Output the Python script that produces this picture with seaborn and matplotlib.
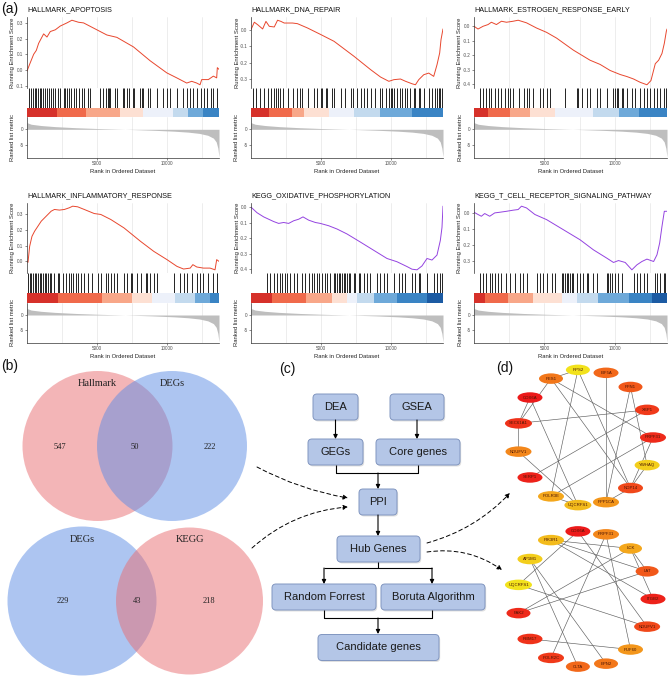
import matplotlib
matplotlib.use("Agg")
import matplotlib.pyplot as plt
import numpy as np
import pandas as pd
import seaborn as sns
from matplotlib.colors import BoundaryNorm, LinearSegmentedColormap, ListedColormap
from matplotlib.patches import Circle, Ellipse, FancyArrowPatch, FancyBboxPatch
from matplotlib.ticker import FormatStrFormatter, MultipleLocator

# ---------------- data ----------------
N_GENES = 13700

# ranked list metric (shared by all six GSEA panels)
metric_rank = [0, 300, 1000, 2000, 3500, 5000, 7000, 9000, 10500, 11500, 12300, 12900, 13300, 13500, 13620, 13700]
metric_value = [2.1, 1.6, 1.2, 0.85, 0.5, 0.25, 0.0, -0.3, -0.6, -0.9, -1.3, -1.9, -2.8, -4.0, -6.0, -8.8]

apoptosis_rank = [0, 190, 475, 665, 831, 1068, 1187, 1425, 1662, 2018, 2374, 2849, 3205, 3680, 4036, 4749,
                  5699, 6411, 7598, 8785, 9972, 10685, 11397, 11753, 12109, 12346, 12465, 12940, 13296, 13534, 13581, 13700]
apoptosis_es = [-0.007, 0.037, 0.10, 0.125, 0.17, 0.21, 0.23, 0.21, 0.245, 0.256, 0.28, 0.30, 0.317, 0.304, 0.30, 0.267,
                0.223, 0.208, 0.147, 0.059, -0.018, -0.05, -0.083, -0.072, -0.083, -0.094, -0.061, -0.061, -0.039, -0.05, 0.015, 0.004]
apoptosis_hits = [119, 285, 427, 546, 665, 783, 902, 1021, 1140, 1258, 1424, 1591, 1733, 1852, 2018, 2184, 2374, 2611,
                  2730, 2849, 3015, 3134, 3324, 3514, 3680, 3917, 4084, 4321, 4463, 5223, 5413, 5650, 5745, 5840, 5935,
                  6291, 6457, 6837, 6932, 7122, 7312, 7549, 7668, 8072, 8190, 8309, 8665, 8784, 9259, 9686, 9971, 10208,
                  10683, 11158, 11443, 11633, 11823, 12108, 12416, 12630, 12820, 13105, 13295, 13532]
apoptosis_edges = [0, 2140, 4230, 6650, 8310, 10450, 11520, 12580, 13700]
apoptosis_levels = [4, 3, 2, 1, 0, -1, -2, -3]

dna_rank = [0, 237, 474, 830, 1067, 1304, 1659, 1896, 2133, 2370, 2607, 2963, 3318, 4029, 4978, 5925, 7348, 8533,
            9244, 9837, 10192, 10666, 11031, 11496, 11733, 11970, 12325, 12681, 13037, 13273, 13463, 13558, 13700]
dna_es = [0, 0.045, 0.03, 0.004, 0.05, 0.02, 0.016, 0.057, 0.05, 0.04, 0.04, 0.04, 0.036, 0.01, -0.03, -0.071, -0.162,
          -0.243, -0.288, -0.314, -0.304, -0.30, -0.314, -0.329, -0.335, -0.304, -0.274, -0.264, -0.284, -0.213,
          -0.142, -0.061, 0.004]
dna_hits = [119, 356, 664, 901, 1185, 1422, 1659, 1778, 1896, 2086, 2252, 2607, 2963, 3271, 3508, 3674, 4076, 4503,
            4740, 4977, 5096, 5333, 5451, 5807, 5925, 6399, 6683, 7110, 7300, 7584, 7821, 8058, 8295, 8532, 8816, 9196,
            9362, 9599, 9836, 9954, 10073, 10238, 10428, 10618, 10784, 11021, 11139, 11376, 11613, 11732, 11969, 12087,
            12324, 12680, 12917, 13154, 13272, 13391, 13509, 13628]
dna_edges = [0, 1300, 2960, 3790, 5570, 7350, 9240, 11500, 13700]
dna_levels = [4, 3, 2, 1, 0, -1, -2, -3]

estrogen_rank = [0, 285, 641, 997, 1235, 1591, 1947, 2303, 2779, 3134, 3728, 4440, 5152, 5865, 7052, 8239, 8951,
                 9664, 10376, 10851, 11326, 11800, 12275, 12560, 12869, 13106, 13344, 13510, 13652, 13700]
estrogen_es = [0, -0.019, 0, 0.012, 0.028, 0.012, 0.035, 0.028, 0.035, 0.042, 0.024, -0.012, -0.042, -0.082, -0.165,
               -0.235, -0.264, -0.306, -0.334, -0.348, -0.365, -0.388, -0.405, -0.376, -0.259, -0.235, -0.188,
               -0.118, -0.035, -0.019]
estrogen_hits = [404, 641, 878, 1068, 1234, 1472, 1709, 1947, 2184, 2421, 2588, 2778, 3205, 3561, 3775, 3917, 4202,
                 4677, 4914, 5152, 5389, 6457, 7288, 7407, 7644, 8000, 8238, 8713, 8950, 9425, 9900, 10018, 10137,
                 10256, 10493, 10612, 10850, 11206, 11443, 11799, 12036, 12274, 12511, 12749, 12986, 13223, 13461, 13651]
estrogen_edges = [0, 1000, 2540, 4010, 5750, 8480, 10260, 11680, 13700]
estrogen_levels = [4, 3, 2, 1, 0, -1, -2, -3]

inflam_rank = [0, 71, 189, 354, 543, 780, 1016, 1370, 1724, 1961, 2315, 2669, 3023, 3260, 3614, 4087, 4795, 5267,
               5976, 6921, 8102, 9046, 9991, 10700, 11172, 11645, 11834, 12117, 12590, 13062, 13416, 13535, 13700]
inflam_es = [0, -0.006, 0.096, 0.16, 0.193, 0.225, 0.257, 0.289, 0.321, 0.332, 0.328, 0.332, 0.343, 0.353, 0.349,
             0.332, 0.306, 0.30, 0.268, 0.214, 0.128, 0.064, 0.011, -0.032, -0.049, -0.043, -0.021, -0.036, -0.043,
             -0.043, -0.054, 0.011, 0]
inflam_hits = [71, 189, 307, 425, 543, 661, 779, 898, 1016, 1134, 1252, 1370, 1488, 1606, 1724, 1960, 2197, 2315,
               2551, 2787, 3023, 3141, 3260, 3496, 3661, 3850, 4086, 4370, 4606, 5031, 5267, 5622, 5787, 5976, 6212,
               6448, 6921, 7157, 7393, 7511, 7865, 8102, 8456, 8574, 8810, 9046, 9283, 10464, 10936, 11172, 11409,
               11763, 12117, 12353, 12590, 12944, 13298, 13534]
inflam_edges = [0, 2200, 5380, 7510, 8930, 10580, 11990, 13050, 13700]
inflam_levels = [4, 3, 2, 1, 0, -1, -2, -3]

oxphos_rank = [0, 428, 904, 1261, 1617, 1974, 2331, 2688, 3044, 3401, 3710, 4115, 4590, 4947, 5542, 6136, 6850,
               7801, 8752, 9704, 10417, 11130, 11488, 11845, 12201, 12558, 12915, 13271, 13509, 13628, 13700]
oxphos_es = [0, -0.036, -0.063, -0.078, -0.093, -0.105, -0.099, -0.105, -0.088, -0.078, -0.063, -0.084, -0.099,
             -0.105, -0.12, -0.141, -0.173, -0.225, -0.278, -0.331, -0.352, -0.383, -0.40, -0.404, -0.379, -0.331,
             -0.341, -0.309, -0.215, -0.131, 0.006]
oxphos_hits = [1141, 1379, 1617, 1855, 2045, 2212, 2449, 2568, 2806, 3044, 3282, 3638, 3876, 4114, 4352, 4471, 4708,
               4827, 5065, 5303, 5422, 5660, 5897, 6016, 6135, 6254, 6373, 6492, 6611, 6730, 6849, 6968, 7086, 7324,
               7443, 7681, 7800, 8038, 8275, 8513, 8989, 9227, 9464, 9702, 10178, 10535, 10772, 11010, 11486, 11724,
               11961, 12080, 12556, 13031, 13269, 13459, 13626]
oxphos_edges = [0, 1500, 3950, 5780, 6850, 7560, 8750, 10420, 12560, 13700]
oxphos_levels = [4, 3, 2, 1, 0, -1, -2, -3, -4]

tcell_rank = [0, 285, 522, 760, 1116, 1472, 1828, 2303, 2779, 3134, 3372, 3728, 4321, 5152, 6340, 7527, 8477, 9427,
              9902, 10257, 10732, 11207, 11563, 11919, 12275, 12750, 12988, 13178, 13344, 13510, 13700]
tcell_es = [0.004, -0.01, -0.021, -0.004, -0.021, 0, 0.004, 0.01, 0.017, 0.021, 0.042, 0.031, -0.01, -0.042, -0.105,
            -0.168, -0.231, -0.283, -0.31, -0.298, -0.31, -0.356, -0.325, -0.304, -0.289, -0.304, -0.262, -0.189,
            -0.084, 0.01, 0.01]
tcell_hits = [404, 641, 878, 1116, 1306, 1472, 1709, 1947, 2303, 2588, 2896, 3252, 3490, 3727, 4440, 4677, 4914, 5152,
              5508, 5745, 6220, 6339, 6457, 6576, 6695, 6814, 6932, 7051, 7288, 7526, 7763, 8000, 8119, 8475, 8713,
              9425, 9543, 9662, 9781, 10018, 10256, 10493, 11324, 11561, 11799, 12036, 12274, 12867, 12986, 13223,
              13461, 13579]
tcell_edges = [0, 760, 2420, 4200, 6220, 7290, 8830, 10970, 12630, 13700]
tcell_levels = [4, 3, 2, 1, 0, -1, -2, -3, -4]

# Venn diagrams
venn1_sets = ["Hallmark", "DEGs"]
venn1_counts = [547, 50, 222]
venn2_sets = ["DEGs", "KEGG"]
venn2_counts = [229, 43, 218]

# workflow
flow_steps = ["DEA", "GSEA", "GEGs", "Core genes", "PPI", "Hub Genes",
              "Random Forrest", "Boruta Algorithm", "Candidate genes"]

# hub gene networks (rank 1 = highest score)
net1_genes = ["RPS2", "EIF5A", "PFN1", "XBP1", "PRPF31", "YWHAQ", "NOP14", "PPP1CA",
              "UQCRFS1", "POLR3E", "SERP1", "NDUFV1", "SEC61A1", "COX6A", "PES1"]
net1_rank = [15, 8, 7, 5, 3, 14, 6, 11, 13, 12, 2, 10, 4, 1, 9]
net1_edges = [("PES1", "SEC61A1"), ("RPS2", "NOP14"), ("RPS2", "POLR3E"), ("EIF5A", "PPP1CA"),
              ("PFN1", "PPP1CA"), ("PFN1", "YWHAQ"), ("XBP1", "SEC61A1"), ("XBP1", "SERP1"),
              ("COX6A", "UQCRFS1"), ("COX6A", "SEC61A1"), ("SEC61A1", "NDUFV1"), ("NDUFV1", "UQCRFS1"),
              ("PRPF31", "POLR3E"), ("PRPF31", "NOP14"), ("YWHAQ", "NOP14"), ("PES1", "PRPF31"),
              ("PES1", "NOP14"), ("POLR3E", "UQCRFS1"), ("NOP14", "PPP1CA"), ("RPS2", "PES1")]
net2_genes = ["COX6A", "PRPF31", "LCK", "LAT", "ITGB2", "NDUFV1", "PUF60", "EPN2",
              "CLTA", "POLR2C", "RBM17", "PAK2", "UQCRFS1", "AP1M1", "PIK3R1"]
net2_rank = [1, 10, 12, 7, 2, 6, 11, 9, 8, 5, 4, 3, 15, 14, 13]
net2_edges = [("PIK3R1", "LCK"), ("PIK3R1", "LAT"), ("PIK3R1", "ITGB2"), ("COX6A", "NDUFV1"),
              ("COX6A", "UQCRFS1"), ("PRPF31", "POLR2C"), ("PRPF31", "PUF60"), ("LCK", "LAT"),
              ("LCK", "ITGB2"), ("LCK", "PAK2"), ("LAT", "PAK2"), ("AP1M1", "CLTA"), ("AP1M1", "EPN2"),
              ("UQCRFS1", "NDUFV1"), ("RBM17", "PUF60")]

# ---------------- style ----------------
W, H = 669, 677
sns.set_theme(style="white")
plt.rcParams["font.family"] = ["Liberation Sans", "DejaVu Sans"]
plt.rcParams["axes.unicode_minus"] = False

RED_LINE = "#e8472e"
PURPLE_LINE = "#9443e0"
band_cmap = ListedColormap(["#1c5ba3", "#3a84c4", "#6ea9d9", "#c3daee", "#edf1fa",
                            "#fde0d3", "#f8a789", "#f06a4b", "#d6312a"])
band_norm = BoundaryNorm(np.arange(-4.5, 5.5, 1), band_cmap.N)
node_cmap = LinearSegmentedColormap.from_list(
    "hub", [(0, "#ec1a1a"), (0.3, "#f03c1a"), (0.55, "#f2721a"), (0.78, "#f4a51c"), (1, "#f2e21c")])

fig = plt.figure(figsize=(W / 100, H / 100), dpi=100)


def rect(x0, y0, x1, y1):
    return [x0 / W, 1 - y1 / H, (x1 - x0) / W, (y1 - y0) / H]


texts = []  # drawn later on the overlay axes (pixel coordinates)


def gsea_panel(x0, x1, rows, name, ranks, es, hits, edges, levels, color):
    y_title, y_es, y_hit, y_bar, y_met, y_bot = rows
    # running enrichment score
    ax = fig.add_axes(rect(x0, y_es, x1, y_hit))
    df = pd.DataFrame({"rank": ranks, "es": es})
    sns.lineplot(data=df, x="rank", y="es", ax=ax, color=color, lw=0.7)
    ax.set_xlim(0, N_GENES)
    ax.yaxis.set_major_locator(MultipleLocator(0.1))
    ax.yaxis.set_major_formatter(FormatStrFormatter("%.1f"))
    ax.set_xticks([5000, 10000])
    ax.set_xticks([2500, 7500, 12500], minor=True)
    ax.grid(axis="x", which="both", color="#e6e6e6", lw=0.5)
    ax.tick_params(axis="x", which="both", length=0, labelbottom=False)
    ax.tick_params(axis="y", left=True, length=1.5, width=0.4, pad=1, labelsize=3.3,
                   labelcolor="#4d4d4d", color="#333333")
    for s in ["top", "right", "bottom"]:
        ax.spines[s].set_visible(False)
    ax.spines["left"].set_linewidth(0.5)
    ax.spines["left"].set_color("#333333")
    ax.set_xlabel("")
    ax.set_ylabel("")

    # gene hits
    axh = fig.add_axes(rect(x0, y_hit, x1, y_bar))
    axh.vlines(hits, 0, 1, color="black", lw=0.6)
    axh.set_xlim(0, N_GENES)
    axh.set_ylim(0, 1)
    axh.axis("off")

    # ranked color bar
    axb = fig.add_axes(rect(x0, y_bar, x1, y_met))
    for a, b, lv in zip(edges[:-1], edges[1:], levels):
        axb.axvspan(a, b, color=band_cmap(band_norm(lv)), lw=0)
    axb.set_xlim(0, N_GENES)
    axb.axis("off")

    # ranked list metric
    axm = fig.add_axes(rect(x0, y_met, x1, y_bot))
    axm.fill_between(metric_rank, 0, metric_value, color="#bebebe", lw=0)
    axm.set_xlim(0, N_GENES)
    axm.set_ylim(-9.1, 3.9)
    axm.set_yticks([-5, 0])
    axm.set_xticks([5000, 10000])
    axm.set_xticks([2500, 7500, 12500], minor=True)
    axm.grid(axis="x", which="both", color="#e6e6e6", lw=0.5)
    axm.tick_params(axis="both", which="major", left=True, bottom=True, length=1.5, width=0.4, pad=1,
                    labelsize=3.3, labelcolor="#4d4d4d", color="#333333")
    axm.tick_params(axis="x", which="minor", length=0)
    for s in ["top", "right"]:
        axm.spines[s].set_visible(False)
    for s in ["left", "bottom"]:
        axm.spines[s].set_linewidth(0.5)
        axm.spines[s].set_color("#333333")
    axm.set_xlabel("Rank in Ordered Dataset", fontsize=4.2, labelpad=1.5, color="#222222")

    texts.append((x0, y_title, name, dict(fontsize=5.2, ha="left", va="center", color="#111111")))
    texts.append((x0 - 14, (y_es + y_hit) / 2, "Running Enrichment Score",
                  dict(fontsize=4.2, rotation=90, ha="center", va="center", color="#222222")))
    texts.append((x0 - 14, (y_met + y_bot) / 2, "Ranked list metric",
                  dict(fontsize=4.2, rotation=90, ha="center", va="center", color="#222222")))


row1 = (10, 17, 88, 108, 117, 158)
row2 = (196, 203, 273, 293, 303, 343)
cols = [(27, 219), (251, 443), (474, 667)]

gsea_panel(*cols[0], row1, "HALLMARK_APOPTOSIS", apoptosis_rank, apoptosis_es, apoptosis_hits,
           apoptosis_edges, apoptosis_levels, RED_LINE)
gsea_panel(*cols[1], row1, "HALLMARK_DNA_REPAIR", dna_rank, dna_es, dna_hits, dna_edges, dna_levels, RED_LINE)
gsea_panel(*cols[2], row1, "HALLMARK_ESTROGEN_RESPONSE_EARLY", estrogen_rank, estrogen_es, estrogen_hits,
           estrogen_edges, estrogen_levels, RED_LINE)
gsea_panel(*cols[0], row2, "HALLMARK_INFLAMMATORY_RESPONSE", inflam_rank, inflam_es, inflam_hits,
           inflam_edges, inflam_levels, RED_LINE)
gsea_panel(*cols[1], row2, "KEGG_OXIDATIVE_PHOSPHORYLATION", oxphos_rank, oxphos_es, oxphos_hits,
           oxphos_edges, oxphos_levels, PURPLE_LINE)
gsea_panel(*cols[2], row2, "KEGG_T_CELL_RECEPTOR_SIGNALING_PATHWAY", tcell_rank, tcell_es, tcell_hits,
           tcell_edges, tcell_levels, PURPLE_LINE)

# ---------------- overlay (pixel coordinates) ----------------
ov = fig.add_axes([0, 0, 1, 1])
ov.set_xlim(0, W)
ov.set_ylim(H, 0)
ov.axis("off")

for x, y, s, kw in texts:
    ov.text(x, y, s, **kw)

for x, y, s in [(1, 9, "(a)"), (1, 366, "(b)"), (279, 369, "(c)"), (496, 368, "(d)")]:
    ov.text(x, y, s, fontsize=10, ha="left", va="center", color="#111111")

# Venn diagrams
PINK, BLUE = "#e96d71", "#5d8de5"
serif = ["Liberation Serif", "DejaVu Serif"]


def draw_venn(centers, radii, colors, sets, counts, label_y, count_x, count_y):
    for (cx, cy), r, col in zip(centers, radii, colors):
        ov.add_patch(Circle((cx, cy), r, fc=col, alpha=0.5, lw=0))
    for (cx, _), s in zip(centers, sets):
        ov.text(cx, label_y, s, fontsize=7.5, family=serif, ha="center", va="center", color="#222222")
    for x, n in zip(count_x, counts):
        ov.text(x, count_y, str(n), fontsize=6, family=serif, ha="center", va="center", color="#222222")


draw_venn([(97.5, 446), (172, 446)], [75, 75], [PINK, BLUE], venn1_sets, venn1_counts,
          383, [60, 135, 210], 447)
draw_venn([(82, 601), (189.5, 601)], [74.5, 73.5], [BLUE, PINK], venn2_sets, venn2_counts,
          539, [63, 137, 209], 601)

# workflow boxes
box_layout = {"DEA": (335.5, 407, 45), "GSEA": (417, 407, 54), "GEGs": (335.5, 452, 55),
              "Core genes": (418, 452, 84), "PPI": (378, 502, 38), "Hub Genes": (378.5, 549, 83),
              "Random Forrest": (324, 597, 104), "Boruta Algorithm": (433, 597, 104),
              "Candidate genes": (378.5, 647.5, 121)}
BOX_H = 26
for step in flow_steps:
    cx, cy, w = box_layout[step]
    ov.add_patch(FancyBboxPatch((cx - w / 2 + 1.2, cy - BOX_H / 2 + 1.5), w, BOX_H,
                                boxstyle="round,pad=0,rounding_size=4", fc="#000000", alpha=0.12, lw=0))
    ov.add_patch(FancyBboxPatch((cx - w / 2, cy - BOX_H / 2), w, BOX_H,
                                boxstyle="round,pad=0,rounding_size=4", fc="#b4c6e7", ec="#8196c0", lw=0.7))
    ov.text(cx, cy, step, fontsize=8, ha="center", va="center", color="#1a1a1a")


def seg(pts):
    xs, ys = zip(*pts)
    ov.plot(xs, ys, color="black", lw=0.8, solid_capstyle="butt")


def arrow(x, y0, y1):
    ov.annotate("", xy=(x, y1), xytext=(x, y0),
                arrowprops=dict(arrowstyle="-|>", color="black", lw=0.8, mutation_scale=6, shrinkA=0, shrinkB=0))


arrow(335.5, 420, 439)
arrow(417, 420, 439)
seg([(335.5, 465), (335.5, 473), (418, 473), (418, 465)])
arrow(378, 473, 489)
arrow(378, 515, 536)
seg([(378, 562), (378, 568)])
seg([(324, 568), (432, 568)])
arrow(324, 568, 584)
arrow(432, 568, 584)
seg([(324, 610), (324, 618), (432, 618), (432, 610)])
arrow(378, 618, 634)

# dashed connectors
for start, end, rad in [((257, 467), (348, 498), 0.08), ((252, 548), (348, 507), -0.17),
                        ((427, 543), (510, 493), 0.14), ((427, 552), (502, 570), -0.2)]:
    ov.add_patch(FancyArrowPatch(start, end, connectionstyle=f"arc3,rad={rad}", arrowstyle="-|>",
                                 mutation_scale=7, lw=0.7, color="black", linestyle=(0, (4, 3)),
                                 shrinkA=0, shrinkB=0))


# networks
def draw_network(genes, ranks, edges, cx, cy, r):
    pos = {}
    for i, g in enumerate(genes):
        ang = np.deg2rad(96 - 360 / len(genes) * i)
        pos[g] = (cx + r * np.cos(ang), cy - r * np.sin(ang))
    for a, b in edges:
        (xa, ya), (xb, yb) = pos[a], pos[b]
        ov.plot([xa, xb], [ya, yb], color="#5e5e5e", lw=0.45, zorder=2)
    for g, rk in zip(genes, ranks):
        x, y = pos[g]
        ov.add_patch(Ellipse((x, y), 20 + len(g), 10.5, fc=node_cmap((rk - 1) / 14), lw=0, zorder=3))
        ov.text(x, y, g, fontsize=3.1, ha="center", va="center", color="#4a1505", zorder=4)


draw_network(net1_genes, net1_rank, net1_edges, 585, 437.5, 68)
draw_network(net2_genes, net2_rank, net2_edges, 585, 599, 68)

fig.savefig("out.png", dpi=100)
